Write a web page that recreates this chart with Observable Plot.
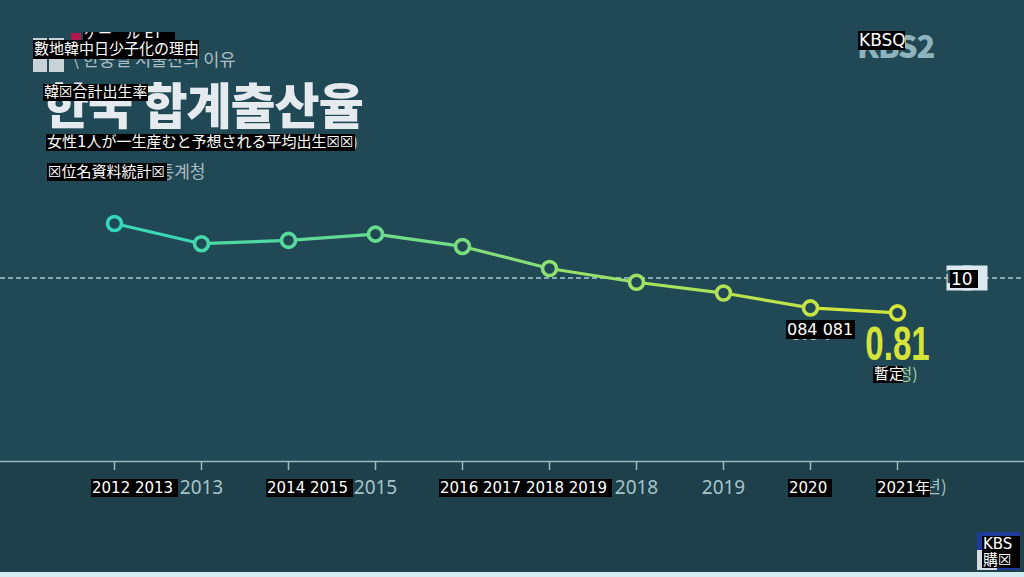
<!DOCTYPE html>
<html>
<head>
<meta charset="utf-8">
<script src="https://cdn.jsdelivr.net/npm/d3@7"></script>
<script src="https://cdn.jsdelivr.net/npm/@observablehq/plot@0.6"></script>
<style>
  html, body { margin: 0; padding: 0; }
  body { width: 1024px; height: 577px; overflow: hidden; }
  #stage {
    position: relative; width: 1024px; height: 577px; overflow: hidden;
    background: linear-gradient(to bottom, #214955 0px, #214955 461px, #1d404a 461px, #1d404a 572px, #d6ecf3 572px);
    font-family: "Noto Sans CJK KR", "Noto Sans", sans-serif;
  }
  #chart { position: absolute; left: 0; top: 0; }
  .abs { position: absolute; white-space: nowrap; }
  .ov {
    position: absolute; background: #000; color: #fff; white-space: pre; overflow: hidden;
    font-family: "DejaVu Sans", "Noto Sans CJK JP", sans-serif; padding: 0 1px; box-sizing: border-box;
  }
</style>
</head>
<body>
<div id="stage">
  <div class="abs" style="left:33px;top:38px;width:14px;height:34px;background:#c9d2d6;"></div>
  <div class="abs" style="left:49px;top:38px;width:15px;height:34px;background:#c9d2d6;"></div>
  <div class="abs" style="left:71px;top:33px;width:10px;height:8px;background:#b0174f;"></div>
  <div class="abs" id="topic" style="left:72px;top:46px;font-size:17.5px;color:#aebfc6;">\ 한중일 저출산의 이유</div>
  <div class="abs" id="title" style="left:44px;top:67px;font-size:49px;font-weight:900;color:#e4eaee;letter-spacing:-1px;">한국 합계출산율</div>
  <div class="abs" id="subtitle" style="left:45px;top:131px;font-size:14px;color:#d5dfe3;">(여성 1명이 평생 낳을 것으로 예상되는 평균 출생아 수)</div>
  <div class="abs" id="source" style="left:48px;top:158px;font-size:17px;color:#a9bcc3;">(단위: 명) 자료: 통계청</div>
  <div class="abs" id="logo" style="left:857px;top:22px;font-size:31px;font-weight:900;color:#8fb3bc;letter-spacing:-1px;">KBS2</div>
  <div class="abs" style="left:977px;top:532px;width:43px;height:38px;background:#1f3a9a;"></div>
  <div class="abs" style="left:977px;top:550px;width:20px;height:20px;background:#d5dde2;"></div>
  <div id="chart"></div>
</div>
<script>
// ---- data ----
const years = [2012, 2013, 2014, 2015, 2016, 2017, 2018, 2019, 2020, 2021];
const tfr = [1.297, 1.187, 1.205, 1.239, 1.172, 1.052, 0.977, 0.918, 0.837, 0.81];
const refValue = [1.0];
const refLabel = ["1.0"];
const endLabelYears = [2020, 2021];
const endLabelTexts = ["0.84", "0.81"];
const provisionalText = ["(잠정)"];
const axisUnit = ["(년)"];
// overlay (translation) boxes visible in the picture
const overlayTexts = [
  "ゲー゛ル ET",
  "數地韓中日少子化の理由",
  "韓☒合計出生率",
  "女性1人が一生産むと予想される平均出生☒☒",
  "☒位名資料統計☒",
  "KBSQ",
  "10",
  "084 081",
  "暫定",
  "2012 2013",
  "2014 2015",
  "2016 2017 2018 2019",
  "2020",
  "2021年",
  "KBS\n購☒"
];
// layout of overlays: [left, top, width, height, fontSize, lineHeight]
const overlayLayout = [
  [83, 32, 92, 10, 14, 2],
  [33, 40, 166, 19, 15, 19],
  [43, 84, 105, 17, 15, 17],
  [46, 134, 309, 17, 15, 17],
  [47, 163, 120, 18, 15, 18],
  [858, 31, 47, 19, 17, 19],
  [950, 270, 28, 18, 17, 18],
  [786, 320, 69, 19, 16, 19],
  [873, 366, 30, 17, 15, 17],
  [91, 479, 87, 18, 15, 18],
  [266, 479, 87, 18, 15, 18],
  [439, 479, 173, 18, 15, 18],
  [788, 479, 44, 18, 15, 18],
  [876, 479, 54, 18, 15, 18],
  [982, 536, 38, 32, 15, 16]
];

const bg = "#214955";
const boxFill = "#dbe8ed";
const points = years.map((y, i) => ({year: y, value: tfr[i]}));
const segments = years.slice(0, -1).map((y, i) => ({
  x1: y, y1: tfr[i], x2: years[i + 1], y2: tfr[i + 1], mid: (y + years[i + 1]) / 2
}));
const ends = endLabelYears.map((y, i) => ({year: y, value: tfr[years.indexOf(y)], text: endLabelTexts[i]}));

const chart = Plot.plot({
  width: 1024,
  height: 577,
  marginLeft: 0,
  marginRight: 0,
  marginTop: 0,
  marginBottom: 116,
  style: {background: "transparent", overflow: "visible"},
  x: {type: "linear", domain: [2012, 2021], range: [114, 897]},
  y: {domain: [0, 1], range: [461, 277.5], axis: null},
  color: {type: "linear", domain: [2012, 2021], range: ["#33d6bb", "#d6e636"], interpolate: "rgb"},
  marks: [
    Plot.ruleY(refValue, {stroke: "#a8cbd5", strokeWidth: 1.5, strokeDasharray: "5,3"}),
    Plot.ruleY([0], {stroke: "#9ab8c0", strokeWidth: 1.5}),
    Plot.axisX({
      ticks: years, tickSize: 9, tickPadding: 10, tickFormat: d => String(d),
      stroke: "#9ab8c0", strokeWidth: 1.5, fill: "#a6c3cb", fontSize: 19,
      fontFamily: "Noto Sans, sans-serif", label: null
    }),
    Plot.text(axisUnit, {x: () => 2021, y: () => 0, dx: 22, dy: 26, textAnchor: "start",
      fill: "#a6c3cb", fontSize: 17, fontFamily: "Noto Sans CJK KR, sans-serif"}),
    Plot.link(segments, {x1: "x1", y1: "y1", x2: "x2", y2: "y2", stroke: "mid", strokeWidth: 3.2}),
    Plot.dot(points, {x: "year", y: "value", r: 7, stroke: "year", strokeWidth: 3.6, fill: bg}),
    Plot.text(ends.slice(0, 1), {x: "year", y: "value", text: "text", dy: 25,
      fill: "#b9c5c9", fontSize: 21, fontWeight: "bold", fontFamily: "Liberation Sans, sans-serif"}),
    Plot.text(ends.slice(1), {x: "year", y: "value", text: "text", dy: 32,
      fill: "#d6e43a", fontSize: 48, fontWeight: "bold", fontFamily: "Liberation Sans, sans-serif"}),
    Plot.text(provisionalText, {x: () => 2021, y: () => tfr[tfr.length - 1], dy: 62,
      fill: "#a6cf9e", fontSize: 16, fontFamily: "Noto Sans CJK KR, sans-serif"}),
    Plot.dot(refValue, {frameAnchor: "right", y: d => d, dx: -65.5, symbol: "square", r: 14.1,
      fill: boxFill, strokeWidth: 0}),
    Plot.dot(refValue, {frameAnchor: "right", y: d => d, dx: -49.5, symbol: "square", r: 14.1,
      fill: boxFill, strokeWidth: 0}),
    Plot.text(refLabel, {frameAnchor: "right", y: () => refValue[0], dx: -57,
      fill: "#1f4a55", fontSize: 17, fontWeight: "bold", fontFamily: "Noto Sans, sans-serif"})
  ]
});
document.getElementById("chart").appendChild(chart);
// condense the large end label horizontally (keep its position)
chart.querySelectorAll("text").forEach(t => {
  if (t.textContent !== endLabelTexts[1]) return;
  const tr = t.getAttribute("transform") || "";
  const x = t.hasAttribute("x") ? +t.getAttribute("x") : 0;
  t.setAttribute("transform", `${tr} translate(${x},0) scale(0.69,1) translate(${-x},0)`);
});

const stage = document.getElementById("stage");
overlayTexts.forEach((t, i) => {
  const [l, tp, w, h, fs, lh] = overlayLayout[i];
  const d = document.createElement("div");
  d.className = "ov";
  d.textContent = t;
  Object.assign(d.style, {left: l + "px", top: tp + "px", width: w + "px", height: h + "px",
    fontSize: fs + "px", lineHeight: lh + "px", zIndex: 5});
  stage.appendChild(d);
});
</script>
</body>
</html>
